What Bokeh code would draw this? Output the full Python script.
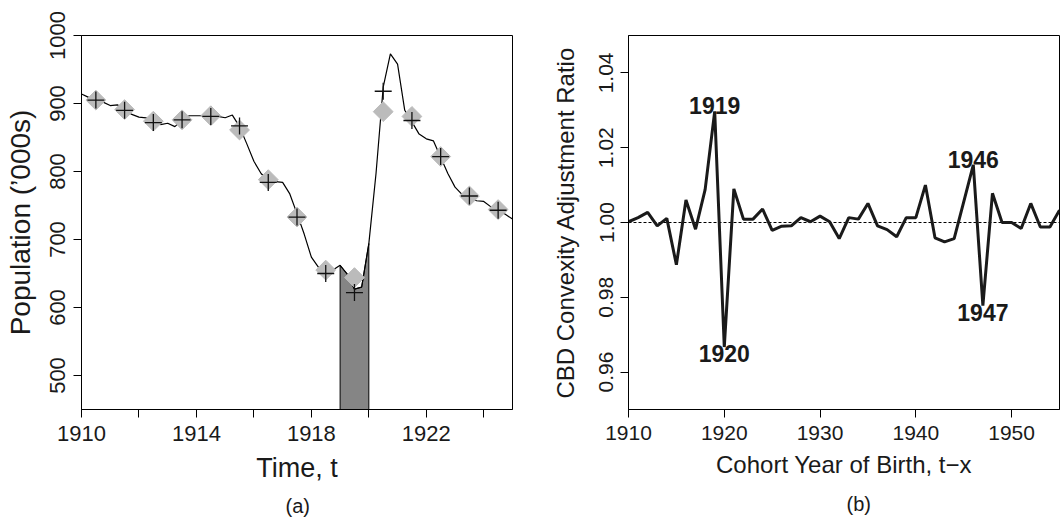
from bokeh.core.properties import value
from bokeh.embed import file_html
from bokeh.layouts import row
from bokeh.models import FixedTicker, Range1d, Title, NumeralTickFormatter
from bokeh.plotting import figure
from bokeh.resources import INLINE

FONT = "Liberation Sans"

# ---- panel (a): population over time ----
curve_year = [1910.0, 1910.25, 1910.5, 1910.75, 1911.0, 1911.25, 1911.5, 1911.75,
              1912.0, 1912.25, 1912.5, 1912.75, 1913.0, 1913.25, 1913.5, 1913.75,
              1914.0, 1914.25, 1914.5, 1914.75, 1915.0, 1915.25, 1915.5, 1915.75,
              1916.0, 1916.25, 1916.5, 1916.75, 1917.0, 1917.25, 1917.5, 1917.75,
              1918.0, 1918.25, 1918.5, 1918.75, 1919.0, 1919.25, 1919.5, 1919.75,
              1920.0, 1920.25, 1920.5, 1920.75, 1921.0, 1921.25, 1921.5, 1921.75,
              1922.0, 1922.25, 1922.5, 1922.75, 1923.0, 1923.25, 1923.5, 1923.75,
              1924.0, 1924.25, 1924.5, 1924.75, 1925.0]
curve_pop = [914, 909, 905, 902, 897, 898, 891, 884,
             880, 879, 874, 869, 871, 866, 876, 882,
             882, 882, 882, 881, 879, 883, 866, 841,
             815, 797, 786, 785, 784, 767, 738, 708,
             674, 659, 653, 655, 662, 649, 627, 630,
             694, 797, 924, 973, 958, 890, 873, 855,
             848, 845, 821, 797, 777, 766, 762, 757,
             756, 748, 743, 737, 730]

mid_year = [1910.5, 1911.5, 1912.5, 1913.5, 1914.5, 1915.5, 1916.5, 1917.5,
            1918.5, 1919.5, 1920.5, 1921.5, 1922.5, 1923.5, 1924.5]
diamond_pop = [905, 891, 874, 876, 882, 861, 788, 733, 655, 644, 888, 881, 822, 764, 744]
cross_pop = [905, 890, 872, 876, 881, 867, 784, 733, 650, 622, 918, 875, 822, 764, 743]

shade_start, shade_end = 1919, 1920
a_xticks = [1910, 1912, 1914, 1916, 1918, 1920, 1922, 1924]
a_xlabels = {1912: "", 1916: "", 1920: "", 1924: ""}
a_yticks = [500, 600, 700, 800, 900, 1000]

# ---- panel (b): CBD convexity adjustment ratio ----
cohort_year = list(range(1910, 1956))
ratio = [1.0002, 1.0013, 1.0027, 0.9991, 1.0011, 0.9887, 1.0060, 0.9982, 1.0088, 1.0297,
         0.9667, 1.0090, 1.0009, 1.0009, 1.0036, 0.9979, 0.9990, 0.9991, 1.0013, 1.0002,
         1.0017, 1.0002, 0.9957, 1.0013, 1.0009, 1.0051, 0.9991, 0.9981, 0.9962, 1.0013,
         1.0013, 1.0100, 0.9959, 0.9948, 0.9957, 1.0055, 1.0154, 0.9778, 1.0078, 1.0000,
         1.0000, 0.9984, 1.0051, 0.9988, 0.9988, 1.0033]
peak_years = [1919, 1946]
trough_years = [1920, 1947]
b_xticks = [1910, 1920, 1930, 1940, 1950]
b_yticks = [0.96, 0.98, 1.00, 1.02, 1.04]


def style(p, tick_size):
    p.xgrid.visible = False
    p.ygrid.visible = False
    p.outline_line_color = "black"
    p.outline_line_alpha = 1.0
    p.outline_line_width = 1
    for ax in (p.xaxis[0], p.yaxis[0]):
        ax.axis_line_color = "black"
        ax.axis_line_width = 1
        ax.major_tick_in = 0
        ax.major_tick_out = 8
        ax.major_tick_line_color = "black"
        ax.major_tick_line_width = 1
        ax.minor_tick_line_color = None
        ax.major_label_text_font = FONT
        ax.major_label_text_font_size = tick_size
        ax.major_label_text_color = "#1a1a1a"
        ax.axis_label_text_font = FONT
        ax.axis_label_text_font_style = "normal"
        ax.axis_label_text_color = "#1a1a1a"
    p.xaxis.major_label_standoff = 8
    p.yaxis.major_label_orientation = "vertical"


def caption(p, text, offset, standoff):
    p.add_layout(Title(text=text, align="left", offset=offset, standoff=standoff,
                       text_font=FONT, text_font_size="20px",
                       text_font_style="normal", text_color="#1a1a1a"), "below")


# panel (a)
pa = figure(frame_width=431, frame_height=374, x_range=Range1d(1910, 1925),
            y_range=Range1d(450, 1000), min_border_left=81, min_border_right=32,
            min_border_top=35, min_border_bottom=110,
            toolbar_location=None, output_backend="svg")
style(pa, "22px")
pa.xaxis.axis_label = "Time, t"
pa.xaxis.axis_label_text_font_size = "27px"
pa.xaxis.axis_label_standoff = 9
pa.yaxis.axis_label = "Population (\u2019000s)"
pa.yaxis.axis_label_text_font_size = "28px"
pa.yaxis.major_label_standoff = 9
pa.yaxis.axis_label_standoff = 11
pa.xaxis.ticker = FixedTicker(ticks=a_xticks)
pa.xaxis.major_label_overrides = a_xlabels
pa.yaxis.ticker = FixedTicker(ticks=a_yticks)

base = pa.y_range.start
sx = [shade_start] + [x for x in curve_year if shade_start <= x <= shade_end] + [shade_end]
sy = [base] + [y for x, y in zip(curve_year, curve_pop) if shade_start <= x <= shade_end] + [base]
pa.patch(sx, sy, fill_color="#858585", line_color="black", line_width=1)
pa.line(curve_year, curve_pop, line_color="black", line_width=1.2)
pa.scatter(mid_year, diamond_pop, marker="square", angle=0.7854, size=14,
           fill_color="#bbbbbb", line_color="#bbbbbb")
pa.scatter(mid_year, cross_pop, marker="cross", size=17, line_color="#111111",
           line_width=1.3)
caption(pa, "(a)", 204, 14)

# panel (b)
pb = figure(frame_width=431, frame_height=374, x_range=Range1d(1910, 1955),
            y_range=Range1d(0.95, 1.05), min_border_left=84, min_border_right=2,
            min_border_top=35, min_border_bottom=110,
            toolbar_location=None, output_backend="svg")
style(pb, "21px")
pb.xaxis.axis_label = "Cohort Year of Birth, t\u2212x"
pb.xaxis.axis_label_text_font_size = "24px"
pb.xaxis.axis_label_standoff = 8
pb.yaxis.axis_label = "CBD Convexity Adjustment Ratio"
pb.yaxis.axis_label_text_font_size = "24px"
pb.yaxis.major_label_standoff = 7
pb.yaxis.axis_label_standoff = 18
pb.xaxis.ticker = FixedTicker(ticks=b_xticks)
pb.yaxis.ticker = FixedTicker(ticks=b_yticks)
pb.yaxis.formatter = NumeralTickFormatter(format="0.00")

pb.line([cohort_year[0], cohort_year[-1]], [1.0, 1.0], line_color="black",
        line_width=1, line_dash="3 2")
pb.line(cohort_year, ratio, line_color="#1a1a1a", line_width=3)

lookup = dict(zip(cohort_year, ratio))
pb.text(peak_years, [lookup[y] for y in peak_years],
        text=[str(y) for y in peak_years], text_align="center", text_baseline="bottom",
        y_offset=3, text_font=value(FONT), text_font_style="bold",
        text_font_size="23px", text_color="#1a1a1a")
pb.text(trough_years, [lookup[y] for y in trough_years],
        text=[str(y) for y in trough_years], text_align="center", text_baseline="top",
        y_offset=-2, text_font=value(FONT), text_font_style="bold",
        text_font_size="23px", text_color="#1a1a1a")
caption(pb, "(b)", 218, 21)

layout = row(pa, pb)
open("out.html", "w").write(file_html(layout, INLINE))
